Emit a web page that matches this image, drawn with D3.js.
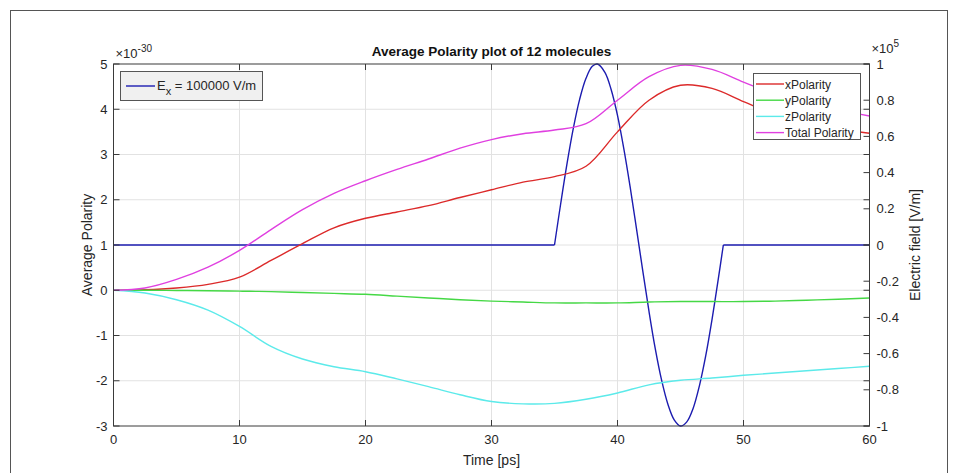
<!DOCTYPE html>
<html><head><meta charset="utf-8">
<script src="https://cdn.jsdelivr.net/npm/d3@7"></script>
<style>body{margin:0;background:#fff;}svg{display:block;font-family:"Liberation Sans",Arial,sans-serif;}</style>
</head><body>
<svg id="c" width="958" height="473"></svg>
<script>
// ---- data ----
const time = [0,2.5,5,7.5,10,12.5,15,17.5,20,22.5,25,27.5,30,32.5,35,37.5,40,42.5,45,47.5,50,52.5,55,57.5,60];
const xPolarity = [0,0.01,0.05,0.13,0.29,0.66,1.03,1.38,1.59,1.73,1.87,2.05,2.22,2.39,2.51,2.74,3.50,4.20,4.53,4.46,4.17,3.88,3.70,3.57,3.47];
const yPolarity = [0,0,-0.005,-0.01,-0.02,-0.03,-0.05,-0.07,-0.09,-0.13,-0.17,-0.21,-0.24,-0.26,-0.28,-0.28,-0.28,-0.26,-0.25,-0.25,-0.25,-0.24,-0.22,-0.20,-0.17];
const zPolarity = [0,-0.06,-0.21,-0.44,-0.80,-1.24,-1.52,-1.69,-1.80,-1.96,-2.13,-2.31,-2.46,-2.51,-2.50,-2.41,-2.27,-2.09,-1.99,-1.94,-1.88,-1.83,-1.78,-1.73,-1.68];
const totalPolarity = [0,0.05,0.24,0.51,0.88,1.34,1.78,2.14,2.42,2.67,2.90,3.14,3.33,3.46,3.54,3.68,4.20,4.72,4.97,4.88,4.60,4.33,4.13,3.98,3.85];
const fieldTime = [0,35,35.5,36,36.5,37,37.5,38,38.4,39,39.5,40,40.5,41,41.5,42,42.5,43,43.5,44,44.5,45,45.5,46,46.5,47,47.5,48,48.4,60];
const fieldValue = [0,0,0.232,0.452,0.647,0.806,0.921,0.987,1.0,0.954,0.858,0.716,0.532,0.322,0.093,-0.140,-0.367,-0.574,-0.747,-0.880,-0.966,-1.0,-0.977,-0.903,-0.778,-0.613,-0.412,-0.187,0,0];
const xTicks = [0,10,20,30,40,50,60];
const yLeftTicks = [-3,-2,-1,0,1,2,3,4,5];
const yRightTicks = [-1,-0.8,-0.6,-0.4,-0.2,0,0.2,0.4,0.6,0.8,1];
const seriesNames = ["xPolarity","yPolarity","zPolarity","Total Polarity"];
const seriesColors = ["#dc2a2a","#45d845","#5ceaea","#e040e0"];
const fieldColor = "#1c1cb0";

// ---- layout ----
const L=113.5, R=869.5, T=64, B=426;
const svg = d3.select("#c");
const axisCol = "#3a3a3a";
const x = d3.scaleLinear().domain([0,60]).range([L,R]);
const yL = d3.scaleLinear().domain([-3,5]).range([B,T]);
const yR = d3.scaleLinear().domain([-1,1]).range([B,T]);

// outer frame
svg.append("rect").attr("x",10.5).attr("y",10.5).attr("width",937).attr("height",480)
  .attr("fill","none").attr("stroke","#555").attr("stroke-width",1);

// grid
const g = svg.append("g");
g.selectAll(".gx").data(xTicks.slice(1,-1)).join("line")
  .attr("x1",d=>x(d)).attr("x2",d=>x(d)).attr("y1",T).attr("y2",B)
  .attr("stroke","#e2e2e2").attr("stroke-width",1);
g.selectAll(".gy").data(yLeftTicks.slice(1,-1)).join("line")
  .attr("y1",d=>yL(d)).attr("y2",d=>yL(d)).attr("x1",L).attr("x2",R)
  .attr("stroke","#e2e2e2").attr("stroke-width",1);

// clip
svg.append("clipPath").attr("id","clip").append("rect").attr("x",L).attr("y",T-2).attr("width",R-L).attr("height",B-T+4);
const plot = svg.append("g").attr("clip-path","url(#clip)");

// field line
const fieldData = fieldTime.map((t,i)=>({t, v:fieldValue[i]}));
const inner = fieldData.filter(d=>d.t>=35 && d.t<=48.4);
plot.append("path").attr("d", d3.line().x(d=>x(d.t)).y(d=>yR(d.v))(fieldData.filter(d=>d.t<=35)))
  .attr("fill","none").attr("stroke",fieldColor).attr("stroke-width",1.4);
plot.append("path").attr("d", d3.line().x(d=>x(d.t)).y(d=>yR(d.v)).curve(d3.curveCatmullRom)(inner))
  .attr("fill","none").attr("stroke",fieldColor).attr("stroke-width",1.4);
plot.append("path").attr("d", d3.line().x(d=>x(d.t)).y(d=>yR(d.v))(fieldData.filter(d=>d.t>=48.4)))
  .attr("fill","none").attr("stroke",fieldColor).attr("stroke-width",1.4);

// polarity lines
const allSeries = [xPolarity,yPolarity,zPolarity,totalPolarity];
const pl = d3.line().x((d,i)=>x(time[i])).y(d=>yL(d)).curve(d3.curveCatmullRom.alpha(0.5));
allSeries.forEach((s,k)=>{
  plot.append("path").attr("d",pl(s)).attr("fill","none")
    .attr("stroke",seriesColors[k]).attr("stroke-width",1.4);
});

// axes
const fs = "13px";
svg.append("rect").attr("x",L).attr("y",T).attr("width",R-L).attr("height",B-T)
  .attr("fill","none").attr("stroke",axisCol).attr("stroke-width",1);

const tl = 6;
xTicks.forEach(d=>{
  svg.append("line").attr("x1",x(d)).attr("x2",x(d)).attr("y1",B).attr("y2",B-tl).attr("stroke",axisCol);
  svg.append("line").attr("x1",x(d)).attr("x2",x(d)).attr("y1",T).attr("y2",T+tl).attr("stroke",axisCol);
  svg.append("text").attr("x",x(d)).attr("y",B+18).attr("text-anchor","middle")
    .attr("font-size",fs).attr("fill","#262626").text(String(d));
});
yLeftTicks.forEach(d=>{
  svg.append("line").attr("x1",L).attr("x2",L+tl).attr("y1",yL(d)).attr("y2",yL(d)).attr("stroke",axisCol);
  svg.append("line").attr("x1",R).attr("x2",R-tl).attr("y1",yL(d)).attr("y2",yL(d)).attr("stroke",axisCol);
  svg.append("text").attr("x",L-6).attr("y",yL(d)+4.5).attr("text-anchor","end")
    .attr("font-size",fs).attr("fill","#262626").text(String(d));
});
yRightTicks.forEach(d=>{
  svg.append("line").attr("x1",R).attr("x2",R-tl).attr("y1",yR(d)).attr("y2",yR(d)).attr("stroke",axisCol);
  svg.append("text").attr("x",R+7).attr("y",yR(d)+4.5).attr("text-anchor","start")
    .attr("font-size",fs).attr("fill","#262626").text(String(d));
});

// exponent labels
const e1 = svg.append("text").attr("x",L+2).attr("y",T-6).attr("font-size",fs).attr("fill","#262626");
e1.append("tspan").text("×10");
e1.append("tspan").attr("dy",-6).attr("font-size","10px").text("-30");
const e2 = svg.append("text").attr("x",R+2).attr("y",T-11).attr("font-size",fs).attr("fill","#262626");
e2.append("tspan").text("×10");
e2.append("tspan").attr("dy",-6).attr("font-size","10px").text("5");

// axis labels
svg.append("text").attr("x",(L+R)/2).attr("y",B+39).attr("text-anchor","middle")
  .attr("font-size","14px").attr("fill","#262626").text("Time [ps]");
svg.append("text").attr("transform",`translate(92,${(T+B)/2}) rotate(-90)`).attr("text-anchor","middle")
  .attr("font-size","14px").attr("fill","#262626").text("Average Polarity");
svg.append("text").attr("transform",`translate(920,${(T+B)/2}) rotate(-90)`).attr("text-anchor","middle")
  .attr("font-size","14px").attr("fill","#262626").text("Electric field [V/m]");
svg.append("text").attr("x",(L+R)/2).attr("y",T-8).attr("text-anchor","middle")
  .attr("font-size","13.5px").attr("font-weight","bold").attr("fill","#111").text("Average Polarity plot of 12 molecules");

// left legend
const lg1 = svg.append("g");
lg1.append("rect").attr("x",120.5).attr("y",71.5).attr("width",142).attr("height",29)
  .attr("fill","#f0f0f0").attr("stroke","#555");
lg1.append("line").attr("x1",126).attr("x2",155).attr("y1",86).attr("y2",86).attr("stroke",fieldColor).attr("stroke-width",1.4);
const lt = lg1.append("text").attr("x",157).attr("y",90).attr("font-size",fs).attr("fill","#262626");
lt.append("tspan").text("E");
lt.append("tspan").attr("dy",5).attr("font-size","11px").text("x");
lt.append("tspan").attr("dy",-5).text(" = 100000 V/m");

// right legend
const lg2 = svg.append("g");
lg2.append("rect").attr("x",753.5).attr("y",73.5).attr("width",107).attr("height",66)
  .attr("fill","#fff").attr("stroke","#555");
seriesNames.forEach((n,i)=>{
  const yy = 84 + i*16.2;
  lg2.append("line").attr("x1",756).attr("x2",784).attr("y1",yy).attr("y2",yy)
    .attr("stroke",seriesColors[i]).attr("stroke-width",1.4);
  lg2.append("text").attr("x",785).attr("y",yy+4.5).attr("font-size","12px").attr("fill","#262626").text(n);
});
</script>
</body></html>
